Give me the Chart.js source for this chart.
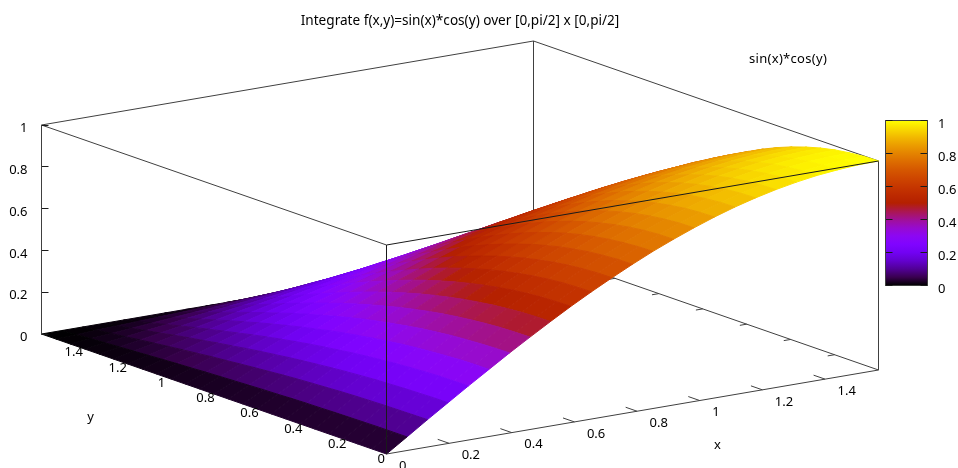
<!DOCTYPE html>
<html>
<head>
<meta charset="utf-8">
<title>sin(x)*cos(y)</title>
<script src="https://cdn.jsdelivr.net/npm/chart.js@4"></script>
<style>
  html, body { margin: 0; padding: 0; background: #fff; }
  canvas { display: block; }
</style>
</head>
<body>
<canvas id="js-surface" width="958" height="468"></canvas>
<script>
"use strict";

const TITLE = "Integrate f(x,y)=sin(x)*cos(y) over [0,pi/2] x [0,pi/2]";
const KEY_LABEL = "sin(x)*cos(y)";

const xTicks = [0, 0.2, 0.4, 0.6, 0.8, 1, 1.2, 1.4];
const yTicks = [0, 0.2, 0.4, 0.6, 0.8, 1, 1.2, 1.4];
const zTicks = [0, 0.2, 0.4, 0.6, 0.8, 1];
const cbTicks = [0, 0.2, 0.4, 0.6, 0.8, 1];

const xSamples = [0, 0.0654, 0.1309, 0.1963, 0.2618, 0.3272, 0.3927, 0.4581, 0.5236, 0.589, 0.6545, 0.7199, 0.7854,
  0.8508, 0.9163, 0.9817, 1.0472, 1.1126, 1.1781, 1.2435, 1.309, 1.3744, 1.4399, 1.5053, 1.5708];
const ySamples = xSamples.slice();

// z values, one row per y sample
const zValues = [
  [0,.065,.131,.195,.259,.321,.383,.442,.500,.556,.609,.659,.707,.752,.793,.831,.866,.897,.924,.947,.966,.981,.991,.998,1],
  [0,.065,.130,.195,.258,.321,.382,.441,.499,.554,.607,.658,.706,.750,.792,.830,.864,.895,.922,.945,.964,.979,.989,.996,.998],
  [0,.065,.129,.193,.257,.319,.379,.439,.496,.551,.604,.654,.701,.745,.787,.824,.859,.889,.916,.939,.958,.972,.983,.989,.991],
  [0,.064,.128,.191,.254,.315,.375,.434,.490,.545,.597,.647,.694,.737,.778,.815,.849,.880,.906,.929,.947,.962,.972,.979,.981],
  [0,.063,.126,.188,.250,.310,.370,.427,.483,.537,.588,.637,.683,.726,.766,.803,.837,.866,.892,.915,.933,.947,.958,.964,.966],
  [0,.062,.124,.185,.245,.304,.362,.419,.473,.526,.576,.624,.670,.712,.751,.787,.820,.849,.875,.897,.915,.929,.939,.945,.947],
  [0,.060,.121,.180,.239,.297,.354,.409,.462,.513,.562,.609,.653,.695,.733,.768,.800,.829,.854,.875,.892,.906,.916,.922,.924],
  [0,.059,.117,.175,.232,.288,.343,.397,.448,.498,.546,.591,.634,.674,.712,.746,.777,.804,.829,.849,.866,.880,.889,.895,.897],
  [0,.057,.113,.169,.224,.278,.331,.383,.433,.481,.527,.571,.612,.651,.687,.720,.750,.777,.800,.820,.837,.849,.859,.864,.866],
  [0,.054,.109,.162,.215,.267,.318,.368,.416,.462,.506,.548,.588,.625,.660,.691,.720,.746,.768,.787,.803,.815,.824,.830,.831],
  [0,.052,.104,.155,.205,.255,.304,.351,.397,.441,.483,.523,.561,.596,.629,.660,.687,.712,.733,.751,.766,.778,.787,.792,.793],
  [0,.049,.098,.147,.195,.242,.288,.333,.376,.418,.458,.496,.532,.565,.596,.625,.651,.674,.695,.712,.726,.737,.745,.750,.752],
  [0,.046,.092,.138,.183,.227,.271,.313,.354,.393,.430,.466,.500,.532,.561,.588,.612,.634,.653,.670,.683,.694,.701,.706,.707],
  [0,.043,.086,.129,.171,.212,.252,.292,.330,.366,.401,.435,.466,.496,.523,.548,.571,.591,.609,.624,.637,.647,.654,.658,.659],
  [0,.040,.079,.119,.158,.196,.233,.269,.304,.338,.371,.401,.430,.458,.483,.506,.527,.546,.562,.576,.588,.597,.604,.607,.609],
  [0,.036,.073,.108,.144,.179,.213,.246,.278,.309,.338,.366,.393,.418,.441,.462,.481,.498,.513,.526,.537,.545,.551,.554,.556],
  [0,.033,.065,.098,.129,.161,.191,.221,.250,.278,.304,.330,.354,.376,.397,.416,.433,.448,.462,.473,.483,.490,.496,.499,.500],
  [0,.029,.058,.086,.114,.142,.169,.196,.221,.246,.269,.292,.313,.333,.351,.368,.383,.397,.409,.419,.427,.434,.439,.441,.442],
  [0,.025,.050,.075,.099,.123,.146,.169,.191,.213,.233,.252,.271,.288,.304,.318,.331,.343,.354,.362,.370,.375,.379,.382,.383],
  [0,.021,.042,.063,.083,.103,.123,.142,.161,.179,.196,.212,.227,.242,.255,.267,.278,.288,.297,.304,.310,.315,.319,.321,.321],
  [0,.017,.034,.050,.067,.083,.099,.114,.129,.144,.158,.171,.183,.195,.205,.215,.224,.232,.239,.245,.250,.254,.257,.258,.259],
  [0,.013,.025,.038,.050,.063,.075,.086,.098,.108,.119,.129,.138,.147,.155,.162,.169,.175,.180,.185,.188,.191,.193,.195,.195],
  [0,.009,.017,.025,.034,.042,.050,.058,.065,.073,.079,.086,.092,.098,.104,.109,.113,.117,.121,.124,.126,.128,.129,.130,.131],
  [0,.004,.009,.013,.017,.021,.025,.029,.033,.036,.040,.043,.046,.049,.052,.054,.057,.059,.060,.062,.063,.064,.065,.065,.065],
  [0,0,0,0,0,0,0,0,0,0,0,0,0,0,0,0,0,0,0,0,0,0,0,0,0],
];

const paletteColors = ["#000000", "#39004f", "#510096", "#6301ce", "#7202f3", "#8004ff", "#8c07f3", "#970bce", "#a11096",
  "#ab174f", "#b42000", "#bd2a00", "#c63700", "#ce4600", "#d55700", "#dd6c00", "#e48300", "#eb9d00", "#f2ba00", "#f9db00", "#ffff00"];

// view of the box on the page
const RANGE = 1.5708;
const ORIGIN = [386.5, 454];
const X_SPAN = [492, -84];
const Y_SPAN = [-345, -120];
const Z_SPAN = 209;
const CB_BOX = { left: 885.5, right: 927.5, top: 120.5, bottom: 285.5 };
const Z_AXIS_RIGHT = 41.5;
const FONT = "'Noto Sans', sans-serif";
const FONT_SIZE = 13;
const TITLE_FONT_SIZE = 13.6;
const LINE_COLOR = "#404040";

function project(x, y, z) {
  return {
    x: ORIGIN[0] + (x / RANGE) * X_SPAN[0] + (y / RANGE) * Y_SPAN[0],
    y: ORIGIN[1] + (x / RANGE) * X_SPAN[1] + (y / RANGE) * Y_SPAN[1] - z * Z_SPAN,
  };
}

function hexToRgb(hex) {
  return [1, 3, 5].map((i) => parseInt(hex.slice(i, i + 2), 16));
}

function paletteColor(v) {
  const pos = Math.min(Math.max(v, 0), 1) * (paletteColors.length - 1);
  const i = Math.min(Math.floor(pos), paletteColors.length - 2);
  const a = hexToRgb(paletteColors[i]);
  const b = hexToRgb(paletteColors[i + 1]);
  const c = a.map((n, k) => Math.round(n + (b[k] - n) * (pos - i)));
  return `rgb(${c[0]},${c[1]},${c[2]})`;
}

const datasets = [];

function addLine(points, color) {
  datasets.push({
    data: points,
    showLine: true,
    fill: false,
    borderColor: color,
    borderWidth: 1,
    pointRadius: 0,
    xAxisID: "x",
    yAxisID: "y",
  });
}

function addShape(points, fillColor, lineColor, lineWidth) {
  datasets.push({
    data: points.concat([points[0]]),
    showLine: true,
    fill: "shape",
    backgroundColor: fillColor,
    borderColor: lineColor,
    borderWidth: lineWidth,
    borderJoinStyle: "round",
    pointRadius: 0,
    xAxisID: "x",
    yAxisID: "y",
  });
}

// everything behind the surface first
addLine([project(0, RANGE, 1), project(RANGE, RANGE, 1), project(RANGE, 0, 1)], LINE_COLOR);
addLine([project(0, RANGE, 1), project(0, 0, 1)], LINE_COLOR);
addLine([project(RANGE, RANGE, 0), project(RANGE, RANGE, 1)], LINE_COLOR);
addLine([project(RANGE, 0, 0), project(RANGE, 0, 1)], LINE_COLOR);
addLine([project(0, 0, 0), project(RANGE, 0, 0), project(RANGE, RANGE, 0)], LINE_COLOR);
xTicks.slice(1).forEach((v) => addLine([project(v, 0, 0), project(v, 0.052, 0)], LINE_COLOR));
yTicks.slice(1).forEach((v) => addLine([project(RANGE, v, 0), project(RANGE - 0.022, v, 0)], LINE_COLOR));

// far facets first so the near ones cover them
for (let j = ySamples.length - 2; j >= 0; j--) {
  for (let i = xSamples.length - 2; i >= 0; i--) {
    const mean = (zValues[j][i] + zValues[j][i + 1] + zValues[j + 1][i] + zValues[j + 1][i + 1]) / 4;
    const color = paletteColor(mean);
    addShape([
      project(xSamples[i], ySamples[j], zValues[j][i]),
      project(xSamples[i + 1], ySamples[j], zValues[j][i + 1]),
      project(xSamples[i + 1], ySamples[j + 1], zValues[j + 1][i + 1]),
      project(xSamples[i], ySamples[j + 1], zValues[j + 1][i]),
    ], color, color, 1);
  }
}

// front edges of the box go over the surface
addLine([project(0, 0, 0), project(0, 0, 1), project(RANGE, 0, 1)], "#1a1a1a");

// colour box
const ctx = document.getElementById("js-surface").getContext("2d");
const cbGradient = ctx.createLinearGradient(0, CB_BOX.bottom, 0, CB_BOX.top);
paletteColors.forEach((c, i) => cbGradient.addColorStop(i / (paletteColors.length - 1), c));
addShape([
  { x: CB_BOX.left, y: CB_BOX.top },
  { x: CB_BOX.right, y: CB_BOX.top },
  { x: CB_BOX.right, y: CB_BOX.bottom },
  { x: CB_BOX.left, y: CB_BOX.bottom },
], cbGradient, LINE_COLOR, 1);

// later datasets are painted later
datasets.forEach((d, i) => { d.order = -i; });

function sideAxis(position, ticks, padding, showLabels) {
  return {
    type: "linear",
    axis: "y",
    position: position,
    min: 0,
    max: 1,
    afterBuildTicks: (scale) => { scale.ticks = ticks.map((v) => ({ value: v })); },
    afterFit: (scale) => { scale.width = 0; },
    border: { display: true, color: LINE_COLOR, z: 1 },
    grid: { drawOnChartArea: false, drawTicks: true, tickLength: -7, color: "#1a1a1a", z: 1 },
    ticks: {
      display: showLabels,
      autoSkip: false,
      padding: padding,
      labelOffset: 3.5,
      color: "#000",
      font: { family: FONT, size: FONT_SIZE },
      callback: (value) => String(value),
    },
  };
}

function placeScale(scale, left, right, top, bottom) {
  scale.left = left;
  scale.right = right;
  scale.top = top;
  scale.bottom = bottom;
  scale.width = right - left;
  scale.height = bottom - top;
  scale.configure();
}

// the z axis and the colour box only span part of the page
const placeAxes = {
  id: "placeAxes",
  afterLayout(chart) {
    const w = chart.width;
    const h = chart.height;
    chart.chartArea = { left: 0, top: 0, right: w, bottom: h, width: w, height: h };
    placeScale(chart.scales.x, 0, w, 0, h);
    placeScale(chart.scales.y, 0, w, 0, h);
    const zBottom = project(0, RANGE, 0).y;
    placeScale(chart.scales.z, 0, Z_AXIS_RIGHT, zBottom - Z_SPAN, zBottom);
    placeScale(chart.scales.cb, CB_BOX.right, w, CB_BOX.top, CB_BOX.bottom);
    placeScale(chart.scales.cbLeft, CB_BOX.left - 20, CB_BOX.left, CB_BOX.top, CB_BOX.bottom);
    chart.titleBlock.left = 0;
    chart.titleBlock.right = 920;
  },
};

// labels of the two slanted axes
const slantedLabels = {
  id: "slantedLabels",
  afterDraw(chart) {
    const c = chart.ctx;
    const sx = chart.scales.x;
    const sy = chart.scales.y;
    c.save();
    c.fillStyle = "#000";
    c.font = `${FONT_SIZE}px ${FONT}`;
    c.textBaseline = "middle";
    c.textAlign = "left";
    xTicks.forEach((v) => {
      const p = project(v, 0, 0);
      c.fillText(String(v), sx.getPixelForValue(p.x) + 12.5, sy.getPixelForValue(p.y) + 12);
    });
    c.textAlign = "center";
    yTicks.forEach((v) => {
      const p = project(0, v, 0);
      c.fillText(String(v), sx.getPixelForValue(p.x) - 5.3, sy.getPixelForValue(p.y) + 5.5);
    });
    c.fillText("x", 717.5, 445.5);
    c.fillText("y", 90.5, 417);
    c.textAlign = "left";
    c.letterSpacing = "0.3px";
    c.fillText(KEY_LABEL, 749, 59);
    c.restore();
  },
};

new Chart(ctx, {
  type: "scatter",
  data: { datasets: datasets },
  plugins: [placeAxes, slantedLabels],
  options: {
    responsive: false,
    animation: false,
    events: [],
    layout: { autoPadding: false, padding: 0 },
    plugins: {
      legend: { display: false },
      tooltip: { enabled: false },
      title: {
        display: true,
        text: TITLE,
        color: "#000",
        font: { family: FONT, size: TITLE_FONT_SIZE, weight: "normal" },
        padding: { top: 10, bottom: 0 },
      },
    },
    scales: {
      x: { type: "linear", min: 0, max: 958, display: false },
      y: { type: "linear", min: 0, max: 468, reverse: true, display: false },
      z: sideAxis("left", zTicks, 21, true),
      cb: sideAxis("right", cbTicks, 17.5, true),
      cbLeft: sideAxis("left", cbTicks, 0, false),
    },
  },
});
</script>
</body>
</html>
